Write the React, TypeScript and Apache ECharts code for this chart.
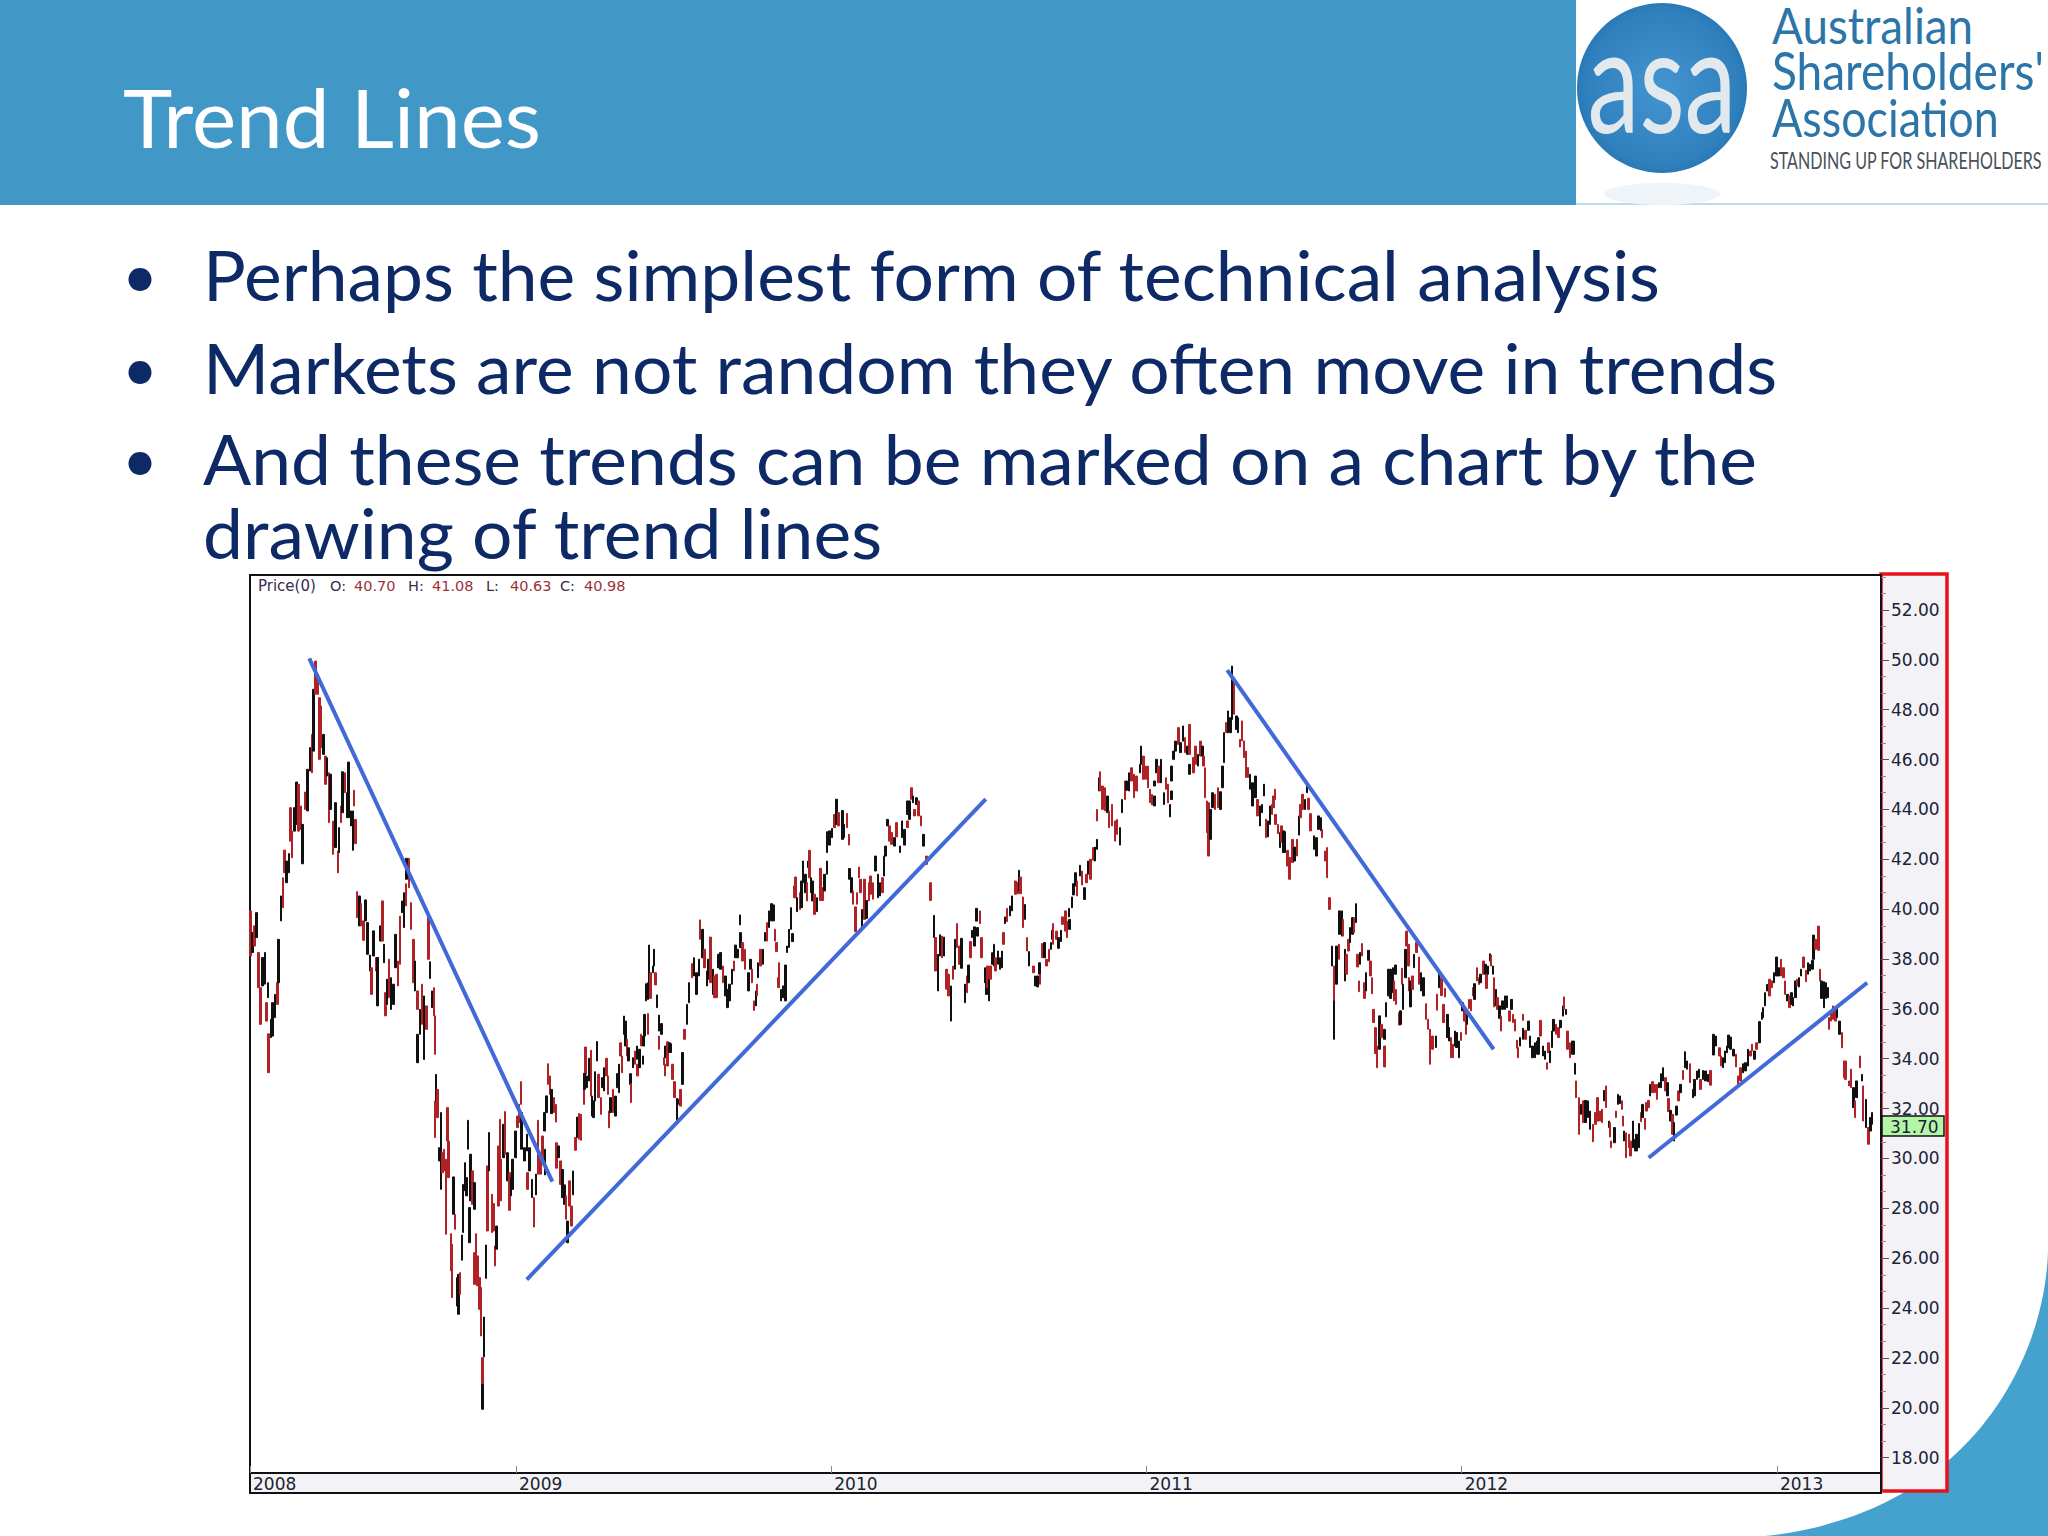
import React, { useEffect, useRef } from "react";
import * as echarts from "echarts";

type Row = [number, number, number, string];
const R = "r";
const K = "k";

// Each row: fraction of the year, high, low, colour
const bars2008: Row[] = [
[.158,39.93,38.12,R],[.164,39.06,38.26,K],[.171,39.33,38.52,R],[.177,39.86,38.86,K],[.183,38.26,36.85,R],[.190,36.85,35.38,R],[.196,38.06,36.92,K],[.203,38.26,36.99,K],[.209,36.25,35.51,R],[.213,37.05,36.45,K],[.214,35.00,33.44,R],[.222,35.58,34.85,K],[.228,36.25,34.91,K],[.235,36.58,35.65,K],[.243,37.05,36.18,R],[.247,38.79,37.05,K],[.254,40.53,39.53,K],[.260,41.26,40.06,R],[.266,42.37,41.46,R],[.272,41.93,41.06,K],[.279,42.23,41.46,K],[.285,44.07,42.73,R],[.290,43.13,42.06,R],[.297,44.07,43.13,K],[.304,45.10,43.40,K],[.310,45.01,43.13,R],[.317,44.14,43.20,R],[.323,43.40,41.82,K],[.330,44.70,44.00,R],[.338,45.61,43.94,K],[.346,46.48,45.54,K],[.352,47.01,45.47,R],[.358,48.82,46.34,K],[.363,49.95,48.62,R],[.371,49.35,48.62,R],[.377,48.48,46.01,R],[.382,48.15,46.48,R],[.389,47.01,46.21,K],[.395,46.14,45.01,R],[.400,46.07,45.34,K],[.406,45.47,43.47,R],[.412,45.41,44.00,K],[.420,43.53,42.20,R],[.427,44.27,42.47,K],[.435,42.33,41.46,R],[.439,43.27,42.27,K],[.445,44.14,43.47,R],[.450,45.51,43.87,K],[.457,45.47,44.67,R],[.464,44.67,43.67,K],[.469,45.90,43.67,K],[.476,43.94,43.34,K],[.482,43.94,42.36,K],[.486,44.77,44.14,R],[.490,43.60,42.63,R],
[.496,40.70,39.66,R],[.503,40.53,39.33,K],[.508,40.22,39.33,R],[.516,39.53,38.75,R],[.522,40.37,39.53,K],[.529,39.46,38.19,K],[.537,38.16,37.52,K],[.541,37.65,36.58,R],[.547,39.13,38.12,K],[.558,38.06,37.52,R],[.561,38.06,36.12,K],[.570,39.33,38.72,K],[.576,40.33,38.72,R],[.581,38.59,37.85,K],[.586,36.65,35.72,R],[.591,37.19,36.18,K],[.597,37.99,36.45,R],[.604,37.25,35.98,K],[.611,36.99,36.18,K],[.618,38.99,37.65,K],[.625,37.92,36.92,R],[.632,39.72,37.79,R],[.638,40.33,39.86,K],[.645,40.66,39.26,K],[.651,41.02,40.13,R],[.653,42.04,41.20,K],[.660,42.04,40.86,R],[.667,40.26,39.19,R],[.674,38.79,37.05,R],[.680,37.92,36.72,K],[.687,36.72,35.98,R],[.688,34.98,33.84,K],[.695,35.98,34.98,K],[.702,36.99,35.38,R],[.708,36.52,33.97,K],[.716,36.12,35.18,R],[.722,39.72,37.99,R],[.727,37.89,37.22,K],[.734,36.72,36.05,K],[.739,36.85,35.72,R],[.743,35.72,34.18,R],
[.746,33.37,32.10,K],[.743,32.30,30.84,R],[.751,32.77,31.64,R],[.757,30.43,29.90,K],[.762,31.84,28.76,K],[.767,30.23,29.43,R],[.771,30.37,29.50,R],[.777,29.97,26.96,R],[.782,32.04,30.70,R],[.786,30.70,29.23,R],[.793,26.98,25.49,R],[.797,26.56,24.42,R],[.802,29.26,27.76,K],[.806,27.76,27.16,R],[.813,25.22,24.08,K],[.818,25.35,23.75,K],[.822,25.42,24.55,R],[.829,26.93,25.92,K],[.832,28.96,27.03,K],[.838,29.83,28.70,K],[.843,29.23,28.50,K],[.848,31.53,30.37,K],[.853,28.03,26.62,K],[.856,30.17,28.30,K],[.862,29.50,28.16,R],[.868,29.03,27.96,K],[.868,26.22,24.95,R],[.873,26.98,25.35,R],[.878,26.09,24.89,R],[.884,25.22,23.95,R],[.889,24.82,22.88,R],[.893,22.01,20.94,R],[.893,20.94,19.94,K],[.899,23.64,22.04,K],[.904,26.53,25.19,K],[.909,29.70,27.09,R],[.914,31.04,29.50,K],[.923,28.56,27.03,R],[.928,28.19,27.09,R],[.933,26.49,25.69,R],[.938,27.29,26.36,K],[.944,30.50,28.09,R],[.949,31.57,29.37,R],[.953,29.97,28.30,R],[.960,31.37,30.03,K],[.965,31.88,30.17,R],[.973,30.23,29.10,K],[.979,29.43,27.92,R],[.984,29.23,28.50,K],[.989,29.97,28.76,K],[.999,31.10,30.03,K],
];
const bars2009: Row[] = [
[.004,31.70,31.24,R],[.009,32.17,31.44,R],[.015,33.08,32.17,R],[.017,31.84,30.37,K],[.027,30.43,29.90,K],[.035,30.97,30.30,K],[.036,29.43,28.76,R],[.042,30.43,29.50,K],[.050,29.16,28.43,K],[.057,28.43,27.25,R],[.064,29.37,28.54,K],[.070,31.53,29.37,R],[.078,30.03,29.37,R],[.084,30.90,29.77,R],[.090,31.84,31.10,K],[.092,30.37,29.34,K],[.096,32.51,31.84,K],[.102,33.80,32.97,R],[.108,33.31,32.57,R],[.113,32.77,31.80,K],[.120,32.44,31.84,R],[.126,32.17,31.46,R],[.129,30.63,29.61,R],[.135,30.50,30.03,K],[.141,29.90,28.96,R],[.147,29.56,28.43,K],[.154,28.94,28.16,K],[.159,28.50,27.56,R],[.163,27.49,26.62,K],[.170,29.10,28.09,R],[.176,28.09,27.29,R],[.181,29.50,28.54,K],[.188,30.84,30.33,R],[.193,31.66,30.84,K],[.200,31.80,30.77,R],[.206,31.77,30.73,R],[.215,33.42,32.17,R],[.220,34.47,33.37,R],
[.217,33.40,32.77,K],[.225,33.31,32.84,K],[.232,34.02,33.11,K],[.237,34.34,32.50,R],[.241,32.50,31.70,K],[.246,32.31,31.64,K],[.251,33.48,32.31,K],[.257,34.69,33.91,K],[.262,33.38,32.44,R],[.269,32.44,31.77,R],[.275,33.24,32.84,K],[.279,33.64,32.71,K],[.287,34.02,33.31,R],[.292,33.31,32.57,R],[.295,31.90,31.23,R],[.300,32.44,31.84,K],[.307,32.77,31.84,R],[.316,32.50,31.70,K],[.322,33.40,32.84,K],[.327,33.78,32.64,K],[.332,34.64,34.11,R],[.336,34.11,33.44,R],[.342,35.71,34.98,K],[.347,35.51,34.51,K],[.352,34.78,34.11,R],[.357,34.44,33.91,K],[.363,33.40,32.97,K],[.365,33.00,32.24,R],[.371,34.04,33.64,K],[.377,34.31,33.78,R],[.383,34.51,33.98,K],[.385,33.78,33.31,R],[.391,34.38,33.64,K],[.397,34.98,34.51,R],[.402,34.11,33.78,K],[.404,34.91,34.51,K],[.408,35.78,34.91,K],[.412,37.01,36.32,K],[.418,35.81,34.98,R],[.419,37.05,36.38,K],[.422,38.56,37.05,K],[.427,37.45,36.42,R],[.435,37.72,37.45,K],[.438,38.39,37.72,K],[.443,37.45,36.96,R],[.447,36.56,36.05,K],[.454,35.75,35.11,K],[.454,34.91,34.38,R],[.462,35.41,34.98,K],[.469,34.04,33.75,R],[.472,33.78,33.31,R],[.474,34.51,34.04,K],[.480,34.68,33.71,R],[.486,34.64,34.25,K],[.491,34.60,34.25,K],[.496,33.78,33.17,R],[.502,33.08,32.44,R],[.510,32.41,31.50,K],[.517,32.38,32.17,K],
[.522,32.77,32.10,R],[.528,34.25,32.97,K],[.535,35.18,34.78,R],[.543,36.18,35.38,K],[.549,37.05,36.25,K],[.558,37.82,37.25,R],[.564,38.05,37.32,K],[.573,37.45,36.58,K],[.581,37.99,37.32,K],[.583,39.57,38.79,R],[.591,39.19,38.05,K],[.598,38.39,37.65,R],[.605,37.52,36.92,K],[.610,37.99,37.19,K],[.617,38.88,37.05,R],[.624,37.59,36.58,K],[.630,37.32,36.45,R],[.636,37.39,36.45,R],[.642,38.19,37.65,K],[.649,38.26,37.59,K],[.657,37.72,37.05,R],[.664,37.32,36.52,K],[.671,36.78,36.05,K],[.677,36.99,36.32,K],[.685,37.59,36.99,K],[.691,37.92,37.52,R],[.696,38.56,38.05,K],[.702,38.39,38.05,K],[.710,39.77,39.37,K],[.712,39.06,38.46,K],[.719,38.66,37.92,R],[.727,38.39,37.59,R],[.737,37.45,36.72,K],[.744,37.99,37.59,K],[.749,37.59,37.05,R],[.755,36.32,35.94,R],[.761,36.72,36.12,K],[.765,36.99,36.52,R],[.768,37.85,37.25,K],[.775,38.39,37.72,R],[.783,38.39,37.79,K],[.790,39.06,38.72,K],[.796,39.46,38.72,R],[.802,39.93,39.26,K],[.810,40.22,39.53,K],[.816,40.17,39.53,K],[.821,39.19,38.72,R],[.827,38.66,38.30,R],[.834,37.85,37.25,R],[.832,37.25,36.85,R],[.840,36.78,36.32,K],[.848,36.92,36.45,K],[.854,37.76,36.32,K],[.860,38.52,38.26,K],[.866,39.19,38.46,K],[.872,40.06,39.19,K],[.877,39.02,38.70,K],[.883,40.93,40.46,R],[.887,41.29,40.46,R],[.892,40.46,39.90,K],[.900,40.66,39.99,R],[.906,41.13,40.06,K],[.911,41.93,41.06,K],[.918,41.40,40.66,K],[.923,41.06,40.33,R],[.927,41.93,41.67,K],[.931,42.36,41.26,R],[.936,41.26,40.66,K],[.941,41.13,40.33,K],[.947,40.60,39.79,R],[.954,40.46,39.90,K],[.965,41.64,40.35,R],[.972,40.86,40.35,R],[.979,41.40,40.73,K],[.986,41.93,41.40,K],[.986,43.11,42.27,K],[.994,43.14,42.57,K],
];
const bars2010: Row[] = [
[.003,43.24,42.87,K],[.010,43.80,43.27,R],[.017,44.41,43.40,K],[.023,43.87,43.34,R],[.035,43.96,42.80,K],[.041,43.40,42.87,K],[.050,43.84,43.27,R],[.056,43.00,42.57,R],[.057,41.63,41.20,K],[.064,41.26,40.66,K],[.069,40.73,40.20,R],[.077,40.09,39.10,R],[.081,40.66,40.20,R],[.088,41.69,41.26,R],[.092,41.20,40.66,R],[.098,39.99,39.23,K],[.105,41.20,39.59,R],[.112,40.35,39.63,K],[.119,41.06,40.33,R],[.125,41.33,40.60,R],[.133,41.06,40.40,R],[.141,42.13,41.53,K],[.148,41.40,40.46,K],[.155,41.06,40.53,K],[.163,41.26,40.66,R],[.168,42.13,41.33,K],[.172,42.53,42.13,K],[.178,43.60,43.34,K],[.184,43.34,42.73,R],[.191,43.07,42.60,R],[.201,42.87,42.53,K],[.207,43.47,42.90,R],[.218,42.53,42.27,K],[.225,43.54,42.87,K],[.233,43.20,42.57,K],[.241,43.54,43.27,R],[.241,44.34,43.80,K],[.248,44.34,43.60,K],[.254,44.87,44.41,R],[.260,44.54,44.27,K],[.264,44.00,43.74,R],[.270,44.47,44.20,K],[.277,44.34,43.74,R],[.285,43.74,43.34,R],[.293,43.00,42.53,K],[.302,42.13,41.80,R],[.315,41.06,40.35,R],
[.326,39.75,38.86,K],[.330,38.86,37.52,R],[.338,38.19,36.72,K],[.345,38.97,38.12,K],[.351,38.92,38.05,R],[.358,38.88,38.12,K],[.366,37.59,36.79,R],[.372,37.39,36.52,R],[.380,36.92,35.51,K],[.386,37.72,37.19,R],[.393,38.79,37.59,K],[.399,39.42,38.46,R],[.406,38.52,37.79,R],[.413,38.83,37.63,K],[.424,36.99,36.25,K],[.430,37.32,36.65,R],[.436,37.76,37.05,K],[.441,38.70,38.05,R],[.447,39.15,38.86,K],[.454,39.29,38.52,K],[.460,40.03,39.52,K],[.464,39.26,38.92,K],[.472,39.93,39.42,R],[.477,38.86,38.05,R],[.487,37.65,37.05,K],[.493,37.28,36.58,K],[.496,37.72,36.85,R],[.500,37.19,36.32,K],[.505,37.72,37.19,R],[.512,38.25,37.79,K],[.516,38.59,37.72,K],[.521,38.05,37.52,R],[.529,38.32,37.79,K],[.535,38.05,37.59,K],[.541,38.32,37.65,K],[.546,39.06,38.59,R],[.551,39.69,39.42,K],[.557,40.03,39.50,R],[.567,40.13,39.73,K],[.573,40.53,39.93,K],[.584,41.13,40.60,R],[.591,41.06,40.62,R],[.595,41.56,40.73,K],[.601,41.29,40.62,R],[.608,40.49,39.26,R],[.614,40.19,39.59,K],[.621,38.86,38.32,R],[.628,38.30,37.72,K],[.641,37.72,37.45,R],[.647,37.32,36.92,K],[.654,37.32,36.88,K],[.660,37.85,37.39,K],[.662,37.39,36.99,R],[.669,38.62,38.05,R],[.677,38.66,38.05,K],[.683,37.99,37.72,R],[.691,38.39,37.89,R],[.697,38.66,38.39,K],[.700,39.15,38.79,K],[.704,39.42,38.59,R],[.714,39.12,38.79,R],[.721,38.86,38.43,K],[.729,39.15,38.70,K],[.734,39.69,39.39,R],[.743,39.93,39.12,R],[.748,39.52,38.86,R],[.754,40.03,39.69,K],[.756,39.59,39.19,K],[.763,40.49,40.06,K],[.769,41.02,40.57,K],[.774,41.46,40.93,K],[.780,41.13,40.53,R],[.789,41.76,41.33,K],[.795,41.53,40.97,R],[.804,40.86,40.39,K],[.810,41.40,41.06,R],[.815,41.93,41.40,K],[.823,42.00,41.20,R],[.831,42.47,41.96,R],[.837,42.49,41.93,K],[.843,42.80,42.40,K],[.843,44.00,43.54,R],[.849,45.27,44.74,K],[.853,45.51,44.74,R],[.861,44.94,44.00,R],[.868,44.87,43.94,R],[.877,44.54,43.87,K],[.881,43.94,43.27,R],[.891,44.20,43.34,R],[.900,43.54,42.73,R],[.907,43.60,43.00,R],[.916,43.27,42.57,K],[.923,44.40,43.87,K],[.931,45.14,44.40,R],[.937,45.14,44.77,K],[.944,45.47,44.74,K],[.953,45.67,45.14,R],[.960,45.41,44.47,R],[.969,45.34,44.74,R],[.979,45.81,45.47,K],[.983,46.54,45.81,K],[.990,46.14,45.21,R],[.998,45.74,45.21,R],
];
const bars2011: Row[] = [
[.005,45.74,44.87,R],[.011,44.81,44.27,R],[.017,44.60,44.18,R],[.025,44.54,44.14,K],[.026,45.14,44.94,K],[.032,46.01,45.47,K],[.038,45.74,45.07,R],[.046,46.01,45.07,K],[.056,44.67,44.20,K],[.062,45.27,44.81,R],[.068,45.01,44.27,R],[.075,44.20,43.70,K],[.080,45.74,45.14,K],[.080,44.74,44.40,K],[.086,46.34,46.01,K],[.092,46.74,46.34,K],[.101,47.28,46.61,R],[.108,46.68,46.28,K],[.116,47.35,46.74,K],[.122,46.88,46.28,R],[.130,46.54,46.21,K],[.137,47.41,46.21,R],[.137,45.81,45.41,K],[.149,46.08,45.47,R],[.156,46.54,45.81,R],[.163,46.21,45.74,K],[.171,46.74,46.14,R],[.178,46.54,46.14,K],[.181,46.14,45.74,R],[.186,45.67,44.47,R],[.192,44.34,43.07,R],[.197,44.27,42.13,R],
[.203,44.00,42.80,K],[.209,44.67,44.07,K],[.217,44.61,44.00,R],[.226,44.87,44.07,R],[.234,44.71,44.00,K],[.241,45.74,44.87,K],[.246,47.08,45.88,K],[.253,47.48,47.08,R],[.259,47.95,47.08,K],[.267,47.68,47.08,K],[.271,49.75,47.61,K],[.277,49.15,47.82,R],[.286,47.75,47.21,K],[.291,47.68,47.08,K],[.296,46.81,46.50,R],[.303,47.55,46.75,R],[.309,46.75,46.08,R],[.315,46.34,45.28,R],[.322,45.68,45.28,R],[.328,45.41,44.81,K],[.336,45.07,44.14,K],[.346,45.34,44.47,K],[.352,44.40,43.74,R],[.360,44.14,43.34,K],[.366,44.20,43.87,K],[.372,45.01,44.54,K],[.379,43.61,42.87,R],[.385,43.54,42.90,K],[.392,44.14,43.40,K],[.398,44.20,43.80,R],[.403,44.54,44.07,R],[.408,44.81,44.40,R],[.409,43.80,43.40,R],[.417,43.40,43.03,R],[.423,43.07,42.47,K],[.428,43.34,42.67,R],[.434,43.14,42.27,K],[.440,43.11,42.27,K],[.447,42.36,41.73,R],[.453,42.07,41.20,R],[.463,42.80,41.87,R],[.470,42.49,41.93,K],[.477,42.80,42.13,R],[.483,43.74,42.97,K],[.489,44.20,43.67,R],[.495,44.61,44.00,R],[.502,44.40,44.00,K],[.509,45.01,44.67,K],[.514,44.45,44.00,R],[.520,43.83,43.14,R],[.532,42.94,42.40,K],[.539,42.87,42.13,K],[.545,43.74,43.20,K],[.553,43.67,43.14,K],[.557,43.20,42.87,R],[.566,42.33,41.93,R],[.572,42.47,41.26,R],[.580,40.46,39.99,R],[.588,38.52,37.72,K],[.594,37.72,36.32,R],[.594,36.32,34.78,K],[.603,38.52,36.99,K],[.610,38.59,37.99,R],[.612,39.93,38.99,K],[.620,39.93,38.92,K],[.624,39.59,38.92,R],[.629,38.39,37.12,K],[.635,38.19,37.39,R],[.641,38.79,38.32,R],[.645,39.26,38.66,K],[.653,39.66,38.99,K],[.658,39.66,39.06,R],[.664,40.22,39.46,K],[.670,38.19,37.68,R],[.674,37.12,36.69,R],[.678,38.26,37.79,K],[.684,38.62,38.12,R],[.691,37.05,36.42,R],[.697,37.45,36.72,K],[.704,38.35,37.95,K],[.710,37.92,37.32,R],[.716,37.25,36.61,R],[.720,35.98,35.45,R],[.727,35.25,34.21,R],[.731,34.51,33.64,R],[.739,35.72,34.38,K],[.746,35.38,34.85,R],[.755,35.18,34.78,K],[.755,34.51,33.67,R],[.760,36.25,35.68,K],[.768,37.59,36.52,K],[.774,37.59,36.42,K],[.782,37.65,36.65,K],[.785,37.12,36.32,R],[.791,36.78,36.18,R],[.790,37.76,37.39,K],[.802,35.85,35.35,R],[.806,35.92,35.38,K],[.810,37.63,36.99,R],[.814,36.99,35.98,K],[.821,38.39,37.25,K],[.825,39.12,38.52,R],[.831,38.59,37.72,R],[.832,37.25,36.72,R],[.838,37.12,36.08,K],[.843,37.32,36.78,R],[.849,38.19,37.65,K],[.857,38.66,38.26,R],[.865,38.08,36.99,R],[.871,37.45,36.72,K],[.878,37.25,36.52,K],[.886,36.21,35.58,R],[.893,35.58,35.18,R],[.899,35.18,33.78,R],[.907,34.91,34.38,R],[.918,34.91,34.45,K],[.922,36.59,35.95,R],[.928,37.45,36.85,K],
[.935,37.25,36.53,R],[.942,36.18,35.45,R],[.947,36.82,36.48,R],[.955,35.78,34.85,K],[.960,35.25,34.71,K],[.966,34.85,34.04,R],[.972,34.58,34.04,R],[.978,35.11,34.51,K],[.984,35.05,34.45,K],[.991,34.71,34.04,K],[.997,35.05,34.74,R],
];
const bars2012: Row[] = [
[.003,36.25,35.92,K],[.009,35.92,35.51,R],[.014,35.65,34.98,R],[.017,35.78,35.38,K],[.023,36.38,36.02,R],[.030,36.38,35.92,R],[.035,36.85,36.52,R],[.040,37.01,36.38,K],[.048,37.65,37.12,R],[.054,37.25,36.98,R],[.060,37.39,37.05,K],[.069,37.92,37.39,R],[.076,37.79,37.39,K],[.079,37.39,36.82,R],[.084,37.72,37.39,K],[.090,38.21,37.92,K],[.093,38.16,37.72,R],[.099,37.72,37.39,K],[.103,37.25,36.08,R],[.108,36.78,36.12,K],[.113,36.45,35.98,R],[.120,36.12,35.62,K],[.125,35.71,35.11,R],[.130,36.32,35.98,K],[.137,36.52,35.98,K],[.143,36.52,36.05,K],[.151,35.92,35.51,R],[.158,36.38,35.98,K],[.163,35.78,35.45,R],[.169,35.58,35.11,R],[.176,34.74,34.42,R],[.179,34.45,34.04,R],[.185,34.85,34.51,K],[.194,35.78,35.54,R],[.194,35.22,34.78,K],[.202,35.14,34.78,R],[.211,35.51,35.14,K],[.217,34.91,34.45,K],[.225,34.51,34.04,K],[.233,34.64,34.04,K],[.238,34.71,34.18,K],[.244,34.85,34.18,K],[.250,35.54,34.91,R],[.257,34.51,34.11,K],[.264,34.31,33.98,K],[.270,33.84,33.58,R],[.275,34.64,34.24,R],[.280,34.31,33.84,K],[.286,35.11,34.45,K],[.291,35.58,35.11,K],[.299,35.38,34.98,R],[.307,35.25,34.85,R],[.314,35.54,35.25,K],[.321,36.12,35.71,K],[.325,36.48,35.98,R],[.330,35.98,35.78,K],[.336,35.11,34.38,R],[.343,34.64,34.04,R],[.349,34.71,34.18,K],[.355,34.71,34.18,K],[.360,33.82,33.38,K],[.363,33.11,32.44,R],[.372,32.44,30.97,R],[.379,32.17,31.77,K],[.386,32.31,31.44,R],[.393,32.33,31.44,K],[.400,32.31,31.64,K],[.407,31.90,31.17,K],[.417,31.37,30.67,R],[.424,31.84,31.37,R],[.431,32.44,31.50,R],[.439,31.90,31.50,R],[.445,31.97,31.44,R],[.452,32.73,32.31,K],[.457,32.91,32.04,R],[.467,31.50,31.24,K],[.471,31.44,30.86,R],[.473,30.70,30.43,R],[.484,31.24,30.63,K],[.489,31.90,31.64,R],[.496,32.57,32.17,K],[.502,32.51,32.20,K],[.508,32.31,31.97,R],[.511,31.70,31.30,R],[.515,31.10,30.70,K],[.521,31.03,30.03,R],[.530,30.97,30.43,R],[.536,30.70,30.10,R],[.543,31.50,30.43,K],[.549,30.77,30.30,K],[.555,30.97,30.30,K],[.563,31.40,30.43,K],
[.568,31.84,31.48,R],[.573,32.17,31.64,K],[.581,31.61,31.17,R],[.586,32.24,31.90,R],[.592,32.33,32.04,R],[.597,32.97,32.51,K],[.605,33.08,32.64,R],[.613,32.97,32.64,R],[.620,32.97,32.37,R],[.626,33.04,32.84,K],[.632,33.40,32.84,K],[.638,33.64,33.11,K],[.646,33.24,32.71,R],[.652,33.04,32.51,K],[.656,32.41,31.88,R],[.662,31.93,31.50,K],[.668,31.77,30.97,R],[.673,31.44,30.70,K],[.681,32.10,31.74,K],[.688,32.71,32.31,R],[.694,32.97,32.64,K],[.702,33.53,33.17,R],[.709,34.28,33.64,K],[.715,33.91,33.58,K],[.724,33.80,33.04,R],[.734,32.77,32.44,K],[.739,33.17,32.51,K],[.747,33.51,33.17,K],[.752,33.58,33.24,K],[.758,33.17,32.77,R],[.766,33.53,33.17,K],[.773,33.51,33.11,K],[.782,33.37,33.08,K],[.789,33.53,32.94,R],[.798,34.98,34.15,K],[.806,34.91,34.51,K],[.817,34.44,34.11,R],[.822,34.11,33.71,R],[.829,34.04,33.64,K],[.835,34.31,33.84,K],[.842,34.51,34.24,K],[.846,34.95,34.44,K],[.853,34.87,34.38,K],[.862,34.38,34.11,K],[.870,34.18,33.67,R],[.877,33.31,32.97,R],[.885,33.64,33.11,R],[.893,33.80,33.44,K],[.900,33.84,33.51,K],[.908,34.38,33.71,K],[.916,34.31,34.11,R],[.921,34.58,34.31,R],[.929,34.31,33.98,K],[.935,34.64,34.38,R],[.944,35.49,34.64,K],[.952,35.85,35.58,K],[.956,36.05,35.65,K],[.962,36.65,36.12,K],[.970,36.98,36.72,K],[.976,37.19,36.52,R],[.983,37.12,36.85,R],[.991,37.45,37.05,K],[.999,38.08,37.32,K],
];
const bars2013: Row[] = [
[.005,37.65,37.32,K],[.012,37.99,37.32,R],[.020,37.65,37.25,R],[.025,37.12,36.58,R],[.033,36.58,36.32,K],[.040,36.52,36.05,R],[.046,36.65,36.18,K],[.051,36.45,36.12,K],[.058,37.12,36.45,K],[.064,37.19,36.92,R],[.070,37.25,36.88,K],[.076,37.59,37.32,K],[.084,38.08,37.65,R],[.092,37.55,37.09,R],[.098,37.85,37.39,K],[.104,37.79,37.52,K],[.112,37.95,37.59,K],[.116,38.96,37.99,K],[.123,38.79,38.39,R],[.131,39.32,38.35,R],[.136,37.59,37.12,R],[.142,37.12,36.42,K],[.149,37.09,36.05,K],[.155,37.05,36.42,K],[.160,36.85,36.45,K],[.165,35.65,35.18,R],[.172,35.85,35.51,R],[.178,36.12,35.58,R],[.186,36.05,35.51,R],[.191,36.12,35.65,K],[.198,35.51,34.98,K],[.206,35.05,34.44,R],[.212,33.91,33.24,R],[.217,33.91,33.17,R],[.229,33.11,32.91,R],[.235,33.58,32.84,R],[.242,32.84,32.04,K],[.248,32.31,31.64,R],[.253,33.11,32.44,K],[.263,34.11,33.64,R],[.270,33.37,33.11,K],[.273,32.91,31.50,R],[.282,32.37,31.24,K],[.290,31.24,30.57,R],[.296,31.64,31.10,K],[.301,31.84,31.37,K],
];
const yearBars: [number, Row[]][] = [[2008, bars2008], [2009, bars2009], [2010, bars2010], [2011, bars2011], [2012, bars2012], [2013, bars2013]];

const trendLines: [number, number][][] = [
  [[2008.344, 50.06], [2009.115, 29.07]],
  [[2009.034, 25.14], [2010.49, 44.41]],
  [[2011.256, 49.59], [2012.101, 34.38]],
  [[2012.593, 30.03], [2013.286, 37.05]],
];
const yearTicks = [2008.156, 2009, 2010, 2011, 2012, 2013];
const priceTicks = [18, 20, 22, 24, 26, 28, 30, 32, 34, 36, 38, 40, 42, 44, 46, 48, 50, 52];
const minorPriceTicks = [18.67, 19.33, 20.67, 21.33, 22.67, 23.33, 24.67, 25.33, 26.67, 27.33, 28.67, 29.33, 30.67, 31.33, 32.67, 33.33, 34.67, 35.33, 36.67, 37.33, 38.67, 39.33, 40.67, 41.33, 42.67, 43.33, 44.67, 45.33, 46.67, 47.33, 48.67, 49.33, 50.67, 51.33, 52.67, 53.33];
const bullets = [
  "Perhaps the simplest form of technical analysis",
  "Markets are not random they often move in trends",
  "And these trends can be marked on a chart by the",
  "drawing of trend lines",
];
const ohlcLabels = [["O:", "40.70"], ["H:", "41.08"], ["L:", "40.63"], ["C:", "40.98"]];
const lastPrice = "31.70";

const candles = yearBars.flatMap(([year, rows]) =>
  rows.map(([f, hi, lo, c]) => {
    const x = year + f;
    return c === K ? [x, lo, hi, lo, hi] : [x, hi, lo, lo, hi];
  })
);

echarts.graphic.registerShape(
  "swoosh",
  echarts.graphic.extendPath("M2048 1252C2044 1365 1965 1515 1765 1536L2048 1536Z", {})
);

const NAVY = "#0d2a66";
const SANS = "Lato";
const CHART = "DejaVu Sans";
const txt = (text: string, x: number, y: number, fontSize: number, fill: string, fontFamily: string, extra: any = {}, el: any = {}) => ({
  type: "text", x, y, z: 20, ...el,
  style: { text, fontSize, fill, fontFamily, align: "left", verticalAlign: "middle", ...extra },
});

const graphics: any[] = [
  { type: "swoosh", x: 0, y: 0, z: -5, style: { fill: "#45a1cd" } },
  { type: "rect", z: -4, shape: { x: 0, y: 0, width: 1576, height: 205 }, style: { fill: "#4198c6" } },
  { type: "line", z: -4, shape: { x1: 1576, y1: 204, x2: 2048, y2: 204 }, style: { stroke: "#bcdcea", lineWidth: 2 } },
  txt("Trend Lines", 123, 116, 82, "#ffffff", SANS, {}, { scaleX: 1.02 }),
  { type: "ellipse", z: -4, shape: { cx: 1662, cy: 194, rx: 58, ry: 11 }, style: { fill: "#eef4f7" } },
  {
    type: "circle", z: -3, shape: { cx: 1662, cy: 88, r: 85 },
    style: { fill: { type: "radial", x: 0.5, y: 0.5, r: 0.6, colorStops: [{ offset: 0, color: "#4394cf" }, { offset: 0.75, color: "#2f80bd" }, { offset: 1, color: "#1d6ba6" }] } },
  },
  txt("asa", 1662, 77, 145, "#e1e9ef", SANS, { align: "center" }, { scaleX: 0.72 }),
  txt("Australian", 1772, 25, 50, "#2c75a8", SANS, {}, { scaleX: 0.915 }),
  txt("Shareholders'", 1772, 70, 52, "#2c75a8", SANS, {}, { scaleX: 0.885 }),
  txt("Association", 1772, 117, 52, "#2c75a8", SANS, {}, { scaleX: 0.862 }),
  txt("STANDING UP FOR SHAREHOLDERS", 1770, 160, 23, "#4a5158", SANS, {}, { scaleX: 0.7 }),
  ...[0, 1, 2].map((i) => txt("•", 122, [274, 367, 458][i], 62, NAVY, SANS)),
  ...bullets.map((b, i) => txt(b, 203, [274, 367, 458, 532][i], 70, NAVY, SANS, {}, { scaleX: 1.02 })),
  { type: "rect", z: -2, shape: { x: 1881, y: 574, width: 66, height: 917 }, style: { fill: "#f3f3f7", stroke: "#e8121c", lineWidth: 3.5 } },
  { type: "rect", z: -2, shape: { x: 250, y: 1472, width: 1631, height: 21 }, style: { fill: "#f3f3f7", stroke: "#111", lineWidth: 2 } },
  { type: "rect", z: 21, shape: { x: 1882, y: 1116, width: 62, height: 20 }, style: { fill: "#b5f5a6", stroke: "#111", lineWidth: 1.5 } },
  txt(lastPrice, 1890, 1126.5, 17, "#16223a", CHART, {}, { z: 22 }),
  txt("Price(0)", 258, 586, 15, "#3a2a4e", CHART),
  ...ohlcLabels.flatMap(([k, v], i) => {
    const x = [330, 408, 486, 560][i];
    return [
      txt(k, x, 586, 14.5, "#3a2a4e", CHART),
      txt(v, x + 24, 586, 14.5, "#9a3238", CHART),
    ];
  }),
];

export default function App() {
  const ref = useRef<HTMLDivElement>(null);
  useEffect(() => {
    const chart = echarts.init(ref.current!, null, { renderer: "svg" });
    chart.setOption({
      animation: false,
      backgroundColor: "#ffffff",
      textStyle: { fontFamily: CHART },
      grid: { left: 250, top: 575, width: 1631, height: 898, show: true, backgroundColor: "#ffffff", borderColor: "#111", borderWidth: 2, containLabel: false, z: -1 },
      xAxis: {
        type: "value", min: 2008.156, max: 2013.33, z: 10,
        splitLine: { show: false }, axisLine: { show: false },
        axisTick: { show: true, inside: true, length: 7, customValues: yearTicks, lineStyle: { color: "#8a8a8a", width: 1 } },
        axisLabel: { show: true, customValues: yearTicks, hideOverlap: false, color: "#20222e", fontSize: 17, fontFamily: CHART, align: "left", margin: 2, padding: [0, 0, 0, 3], formatter: (v: number) => String(Math.floor(v)) },
      },
      yAxis: [
        {
          type: "value", position: "right", min: 17.383, max: 53.404, z: 10,
          splitLine: { show: false }, axisLine: { show: false },
          axisTick: { show: true, length: 8, customValues: priceTicks, lineStyle: { color: "#555", width: 1 } },
          axisLabel: { show: true, customValues: priceTicks, hideOverlap: false, color: "#1c2238", fontSize: 17, fontFamily: CHART, align: "left", margin: 10, formatter: (v: number) => v.toFixed(2) },
        },
        {
          type: "value", position: "right", min: 17.383, max: 53.404, z: 10,
          splitLine: { show: false }, axisLine: { show: false }, axisLabel: { show: false },
          axisTick: { show: true, length: 5, customValues: minorPriceTicks, lineStyle: { color: "#8a8a8a", width: 1 } },
        },
      ],
      series: [
        {
          type: "candlestick", large: false, clip: true, barWidth: 2, z: 3,
          encode: { x: 0, y: [1, 2, 3, 4] },
          itemStyle: { color: "#101010", color0: "#b02226", borderColor: "#101010", borderColor0: "#b02226", borderWidth: 1 },
          data: candles,
        },
        ...trendLines.map((pts) => ({
          type: "line", data: pts, symbol: "none", z: 4, silent: true,
          lineStyle: { color: "#4169d8", width: 4 },
        })),
      ],
      graphic: { elements: graphics },
    });
    return () => chart.dispose();
  }, []);
  return <div ref={ref} style={{ position: "fixed", left: 0, top: 0, width: 2048, height: 1536 }} />;
}
